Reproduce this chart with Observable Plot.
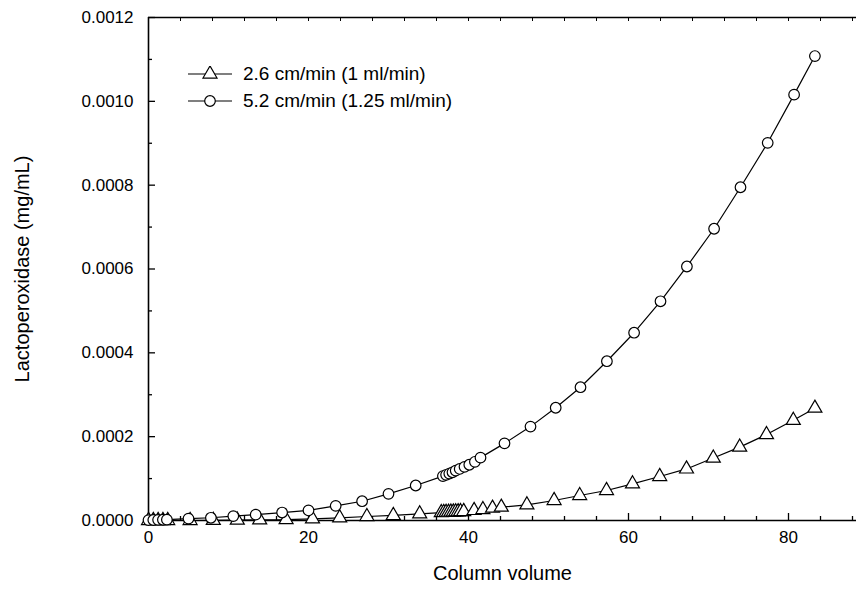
<!DOCTYPE html>
<html><head><meta charset="utf-8">
<script src="https://cdn.jsdelivr.net/npm/d3@7"></script>
<script src="https://cdn.jsdelivr.net/npm/@observablehq/plot@0.6"></script>
<style>
body{margin:0;background:#fff;}
#wrap{position:relative;width:858px;height:599px;font-family:"Liberation Sans",Arial,sans-serif;color:#000;}
#legend{position:absolute;left:188px;top:60px;font-size:19px;line-height:27px;}
#legend .row{display:flex;align-items:center;height:27px;white-space:nowrap;}
#legend svg{margin-right:11px;}
</style></head><body><div id="wrap"><div id="legend"></div></div>
<script>
// Series 1: 2.6 cm/min (1 ml/min) — triangles
const slowX = [0, 0.6, 1.2, 1.8, 2.4, 5.2, 8.1, 11.1, 13.9, 17.2, 20.5, 23.9, 27.3, 30.6, 33.9,
  36.6, 36.9, 37.2, 37.5, 37.8, 38.1, 38.4, 38.7, 39.0, 39.4,
  40.7, 41.8, 43.0, 44.1, 47.3, 50.7, 53.9, 57.25, 60.5, 63.9, 67.25, 70.6, 73.9, 77.25, 80.6, 83.3];
const slowY = [0, 0, 0, 0, 0, 0, 0.0000005, 0.000001, 0.0000015, 0.000002, 0.000004, 0.0000064, 0.0000095, 0.000012, 0.000016,
  0.000019, 0.0000192, 0.0000195, 0.0000198, 0.00002, 0.0000203, 0.0000206, 0.0000209, 0.0000212, 0.0000215,
  0.0000239, 0.0000262, 0.0000294, 0.0000318, 0.0000374, 0.0000477, 0.0000596, 0.0000716, 0.0000875, 0.000105, 0.000123, 0.000149, 0.000175, 0.000205, 0.000239, 0.000268];
// Series 2: 5.2 cm/min (1.25 ml/min) — circles
const fastX = [0, 0.6, 1.2, 1.8, 2.3, 5.0, 7.8, 10.6, 13.4, 16.7, 20.0, 23.4, 26.7, 30.0, 33.4,
  36.8, 37.2, 37.6, 38.0, 38.4, 38.9, 39.5, 40.1, 40.8, 41.5,
  44.5, 47.75, 50.9, 54.0, 57.3, 60.7, 64.0, 67.3, 70.7, 74.0, 77.4, 80.7, 83.3];
const fastY = [0.000001, 0.0000012, 0.0000015, 0.0000018, 0.000002, 0.0000045, 0.0000065, 0.0000105, 0.000014, 0.000019, 0.000024, 0.000035, 0.000046, 0.0000636, 0.0000835,
  0.000106, 0.000109, 0.000112, 0.000115, 0.000119, 0.000123, 0.000128, 0.000133, 0.00014, 0.00015,
  0.000184, 0.000224, 0.000269, 0.000318, 0.00038, 0.000448, 0.000523, 0.000606, 0.000696, 0.000795, 0.000901, 0.001016, 0.001108];

const seriesLabels = ["2.6 cm/min (1 ml/min)", "5.2 cm/min (1.25 ml/min)"];
const seriesSymbols = ["triangle", "circle"];
const xMajorTicks = [0, 20, 40, 60, 80];
const xMinorTicks = [4, 8, 12, 16, 24, 28, 32, 36, 44, 48, 52, 56, 64, 68, 72, 76, 84, 88];
const xTopTicks = [4, 8, 12, 16, 20, 24, 28, 32, 36, 40, 44, 48, 52, 56, 60, 64, 68, 72, 76, 80, 84, 88];
const yMajorTicks = [0, 0.0002, 0.0004, 0.0006, 0.0008, 0.0010, 0.0012];
const yMinorTicks = [0.0001, 0.0003, 0.0005, 0.0007, 0.0009, 0.0011];
const xTitle = "Column volume";
const yTitle = "Lactoperoxidase (mg/mL)";

const slow = slowX.map((x, i) => ({x, y: slowY[i]}));
const fast = fastX.map((x, i) => ({x, y: fastY[i]}));
const triR = 5.2, circR = 5.3;

const chart = Plot.plot({
  width: 858,
  height: 599,
  marginLeft: 148,
  marginRight: 2,
  marginTop: 17,
  marginBottom: 79,
  style: {fontFamily: "'Liberation Sans', Arial, sans-serif", fontSize: "17px", color: "#000", background: "#fff"},
  x: {domain: [0, 88.5]},
  y: {domain: [0, 0.0012]},
  marks: [
    Plot.axisX(xMajorTicks, {anchor: "bottom", tickSize: -7, tickPadding: 17, tickFormat: d => String(d), label: null, fontSize: 17, strokeWidth: 1.3}),
    Plot.axisX(xMinorTicks, {anchor: "bottom", tickSize: -4, tickFormat: () => "", label: null, strokeWidth: 1.3}),
    Plot.axisX(xTopTicks, {anchor: "top", tickSize: -3, tickFormat: () => "", label: null, strokeWidth: 1}),
    Plot.axisY(yMajorTicks, {anchor: "left", tickSize: -7, tickPadding: 22, tickFormat: d3.format(".4f"), label: null, fontSize: 17, strokeWidth: 1.3}),
    Plot.axisY(yMinorTicks, {anchor: "left", tickSize: -4, tickFormat: () => "", label: null, strokeWidth: 1.3}),
    Plot.ruleX([0], {strokeWidth: 1.6}),
    Plot.ruleY([0], {strokeWidth: 1.6}),
    Plot.ruleY([0.0012], {strokeWidth: 1.4}),
    Plot.text([xTitle], {frameAnchor: "bottom", dy: 59, fontSize: 20, textAnchor: "middle"}),
    Plot.text([yTitle], {frameAnchor: "left", rotate: -90, dx: -126, fontSize: 20, textAnchor: "middle"}),
    Plot.line(slow, {x: "x", y: "y", stroke: "#000", strokeWidth: 1.2}),
    Plot.dot(slow, {x: "x", y: "y", symbol: "triangle", r: triR, fill: "#fff", stroke: "#000", strokeWidth: 1.2}),
    Plot.line(fast, {x: "x", y: "y", stroke: "#000", strokeWidth: 1.2}),
    Plot.dot(fast, {x: "x", y: "y", symbol: "circle", r: circR, fill: "#fff", stroke: "#000", strokeWidth: 1.2})
  ]
});
document.getElementById("wrap").prepend(chart);

// Legend (HTML overlay)
const legend = d3.select("#legend");
seriesLabels.forEach((label, i) => {
  const row = legend.append("div").attr("class", "row");
  const svg = row.append("svg").attr("width", 44).attr("height", 16);
  svg.append("line").attr("x1", 0).attr("x2", 44).attr("y1", 8).attr("y2", 8).attr("stroke", "#000").attr("stroke-width", 1.2);
  const tri = seriesSymbols[i] === "triangle";
  const r = tri ? triR : circR;
  svg.append("path").attr("transform", "translate(22,8)").attr("d", d3.symbol(tri ? d3.symbolTriangle : d3.symbolCircle, Math.PI * r * r)())
    .attr("fill", "#fff").attr("stroke", "#000").attr("stroke-width", 1.2);
  row.append("span").text(label);
});
</script>
</body></html>
